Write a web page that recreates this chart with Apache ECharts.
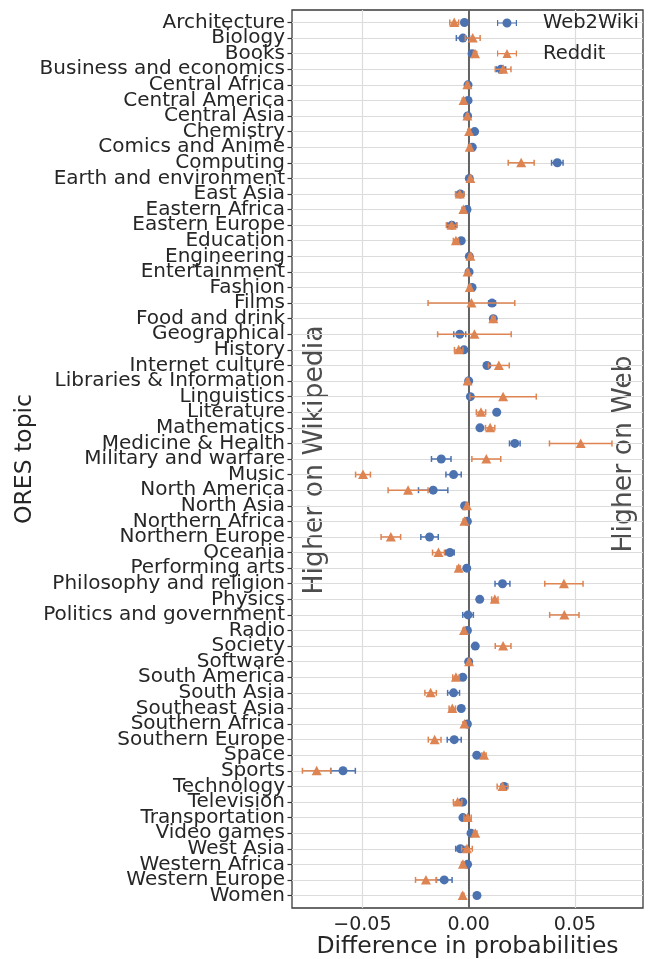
<!DOCTYPE html>
<html>
<head>
<meta charset="utf-8">
<script src="https://cdn.jsdelivr.net/npm/echarts@6/dist/echarts.min.js"></script>
<style>
  html, body { margin: 0; padding: 0; background: #fff; }
  #main { width: 652px; height: 959px; }
</style>
</head>
<body>
<div id="main"></div>
<script>
// ORES topics, top to bottom
const topics = [
  'Architecture', 'Biology', 'Books', 'Business and economics', 'Central Africa',
  'Central America', 'Central Asia', 'Chemistry', 'Comics and Anime', 'Computing',
  'Earth and environment', 'East Asia', 'Eastern Africa', 'Eastern Europe', 'Education',
  'Engineering', 'Entertainment', 'Fashion', 'Films', 'Food and drink',
  'Geographical', 'History', 'Internet culture', 'Libraries & Information', 'Linguistics',
  'Literature', 'Mathematics', 'Medicine & Health', 'Military and warfare', 'Music',
  'North America', 'North Asia', 'Northern Africa', 'Northern Europe', 'Oceania',
  'Performing arts', 'Philosophy and religion', 'Physics', 'Politics and government', 'Radio',
  'Society', 'Software', 'South America', 'South Asia', 'Southeast Asia',
  'Southern Africa', 'Southern Europe', 'Space', 'Sports', 'Technology',
  'Television', 'Transportation', 'Video games', 'West Asia', 'Western Africa',
  'Western Europe', 'Women'
];

const web2wiki = [
  -0.0020, -0.0027, 0.0016, 0.0152, -0.0003,
  -0.0003, -0.0005, 0.0028, 0.0017, 0.0417,
  0.0003, -0.0039, -0.0008, -0.0079, -0.0035,
  0.0003, 0.0002, 0.0016, 0.0110, 0.0116,
  -0.0042, -0.0022, 0.0086, 0.0000, 0.0008,
  0.0132, 0.0053, 0.0217, -0.0129, -0.0071,
  -0.0167, -0.0019, -0.0006, -0.0184, -0.0088,
  -0.0009, 0.0159, 0.0052, -0.0003, -0.0006,
  0.0031, 0.0000, -0.0028, -0.0071, -0.0035,
  -0.0006, -0.0068, 0.0038, -0.0591, 0.0167,
  -0.0028, -0.0027, 0.0011, -0.0039, -0.0005,
  -0.0115, 0.0039
];
const web2wikiErr = [
  0.0008, 0.0031, 0.0006, 0.0022, 0.0004,
  0.0005, 0.0004, 0.0005, 0.0005, 0.0027,
  0.0004, 0.0015, 0.0006, 0.0022, 0.0007,
  0.0004, 0.0004, 0.0005, 0.0016, 0.0006,
  0.0028, 0.0008, 0.0008, 0.0004, 0.0006,
  0.0007, 0.0007, 0.0025, 0.0046, 0.0036,
  0.0069, 0.0005, 0.0004, 0.0041, 0.0020,
  0.0005, 0.0035, 0.0006, 0.0025, 0.0004,
  0.0007, 0.0004, 0.0008, 0.0028, 0.0008,
  0.0004, 0.0033, 0.0007, 0.0058, 0.0012,
  0.0010, 0.0006, 0.0006, 0.0022, 0.0004,
  0.0037, 0.0006
];

const reddit = [
  -0.0068, 0.0019, 0.0030, 0.0162, -0.0006,
  -0.0024, -0.0006, 0.0002, 0.0005, 0.0247,
  0.0008, -0.0042, -0.0025, -0.0080, -0.0060,
  0.0008, -0.0005, 0.0005, 0.0013, 0.0116,
  0.0027, -0.0047, 0.0142, -0.0005, 0.0162,
  0.0058, 0.0101, 0.0527, 0.0083, -0.0497,
  -0.0285, -0.0008, -0.0020, -0.0366, -0.0142,
  -0.0047, 0.0448, 0.0123, 0.0450, -0.0022,
  0.0162, 0.0002, -0.0060, -0.0179, -0.0077,
  -0.0020, -0.0160, 0.0072, -0.0715, 0.0159,
  -0.0052, -0.0005, 0.0031, -0.0008, -0.0027,
  -0.0201, -0.0028
];
const redditErr = [
  0.0021, 0.0035, 0.0008, 0.0037, 0.0005,
  0.0006, 0.0005, 0.0006, 0.0006, 0.0061,
  0.0005, 0.0020, 0.0007, 0.0025, 0.0012,
  0.0006, 0.0005, 0.0006, 0.0204, 0.0008,
  0.0173, 0.0020, 0.0049, 0.0005, 0.0156,
  0.0022, 0.0022, 0.0147, 0.0068, 0.0035,
  0.0094, 0.0006, 0.0006, 0.0046, 0.0028,
  0.0008, 0.0090, 0.0015, 0.0069, 0.0006,
  0.0037, 0.0005, 0.0015, 0.0027, 0.0015,
  0.0007, 0.0030, 0.0010, 0.0067, 0.0025,
  0.0020, 0.0017, 0.0008, 0.0025, 0.0007,
  0.0049, 0.0006
];

const xTicks = [-0.05, 0, 0.05];
const yMin = -0.8, yMax = 56.8;
const yTicks = topics.map((t, i) => i);
// blank labels at both ends so the real first/last topic labels are never auto-hidden
const yLabelValues = [yMin].concat(yTicks, [yMax]);

const BLUE = '#4c72b0';
const ORANGE = '#dd8452';
const FONT = 'DejaVu Sans';
const TEXT = '#262626';

function toRows(vals, errs) {
  return vals.map((v, i) => [v, i, errs[i]]);
}

// error bar + marker for one topic
function errorBarItem(marker) {
  return function (params, api) {
    const v = api.value(0), i = api.value(1), e = api.value(2);
    const c = api.coord([v, i]);
    const lo = api.coord([v - e, i]);
    const hi = api.coord([v + e, i]);
    const color = api.visual('color');
    const line = { stroke: color, lineWidth: 1.5 };
    const cap = 3;
    const s = 5;
    const dot = marker === 'circle'
      ? { type: 'circle', shape: { cx: c[0], cy: c[1], r: 4.5 }, style: { fill: color } }
      : { type: 'polygon', shape: { points: [[c[0], c[1] - s], [c[0] + s, c[1] + s - 0.5], [c[0] - s, c[1] + s - 0.5]] }, style: { fill: color } };
    return {
      type: 'group',
      children: [
        { type: 'line', shape: { x1: lo[0], y1: c[1], x2: hi[0], y2: c[1] }, style: line },
        { type: 'line', shape: { x1: lo[0], y1: c[1] - cap, x2: lo[0], y2: c[1] + cap }, style: line },
        { type: 'line', shape: { x1: hi[0], y1: c[1] - cap, x2: hi[0], y2: c[1] + cap }, style: line },
        dot
      ]
    };
  };
}

// legend icons: marker with a small error bar
const iconCircle = 'path://M0,3.9L20,3.9L20,5.1L0,5.1Z M0,1.5L1.2,1.5L1.2,7.5L0,7.5Z M18.8,1.5L20,1.5L20,7.5L18.8,7.5Z M5.5,4.5A4.5,4.5 0 1,1 14.5,4.5A4.5,4.5 0 1,1 5.5,4.5Z';
const iconTri = 'path://M0,3.9L20,3.9L20,5.1L0,5.1Z M0,1.5L1.2,1.5L1.2,7.5L0,7.5Z M18.8,1.5L20,1.5L20,7.5L18.8,7.5Z M10,0L14.5,9L5.5,9Z';

const chart = echarts.init(document.getElementById('main'));

const option = {
  animation: false,
  backgroundColor: '#fff',
  textStyle: { fontFamily: FONT },
  grid: {
    left: 292, right: 9, top: 10, bottom: 51,
    outerBoundsMode: 'none',
    containLabel: false,
    show: true, borderColor: '#3a3a3a', borderWidth: 1.3, backgroundColor: 'transparent'
  },
  legend: {
    orient: 'vertical',
    left: 492, top: 7,
    itemWidth: 20, itemHeight: 9,
    itemGap: 8.6,
    textStyle: { fontSize: 19.5, color: TEXT, fontFamily: FONT, lineHeight: 22, padding: [0, 0, 0, 21] },
    data: [
      { name: 'Web2Wiki', icon: iconCircle },
      { name: 'Reddit', icon: iconTri }
    ]
  },
  xAxis: {
    type: 'value',
    min: -0.0831, max: 0.082,
    axisLine: { show: false, onZero: false },
    axisTick: { show: false, customValues: xTicks },
    axisLabel: {
      customValues: xTicks, fontSize: 19, color: TEXT, fontFamily: FONT, margin: 8,
      formatter: v => (v < 0 ? '\u2212' : '') + Math.abs(v).toFixed(2)
    },
    splitLine: { show: true, lineStyle: { color: '#dcdcdc', width: 1.2 } },
    name: 'Difference in probabilities',
    nameLocation: 'middle',
    nameGap: 27,
    nameMoveOverlap: false,
    nameTextStyle: { fontSize: 23.5, color: TEXT, fontFamily: FONT }
  },
  yAxis: {
    type: 'value',
    inverse: true,
    min: yMin, max: yMax,
    axisLine: { show: false, onZero: false },
    axisTick: { show: true, customValues: yTicks, length: 4.5, lineStyle: { color: '#333', width: 1.2 } },
    axisLabel: {
      customValues: yLabelValues, fontSize: 20, lineHeight: 14, color: TEXT, fontFamily: FONT, margin: 7,
      hideOverlap: false,
      formatter: v => (Number.isInteger(v) && topics[v]) ? topics[v] : ''
    },
    splitLine: { show: true, lineStyle: { color: '#dcdcdc', width: 1.2 } },
    name: 'ORES topic',
    nameLocation: 'middle',
    nameGap: 255,
    nameRotate: 90,
    nameMoveOverlap: false,
    nameTextStyle: { fontSize: 23.5, color: TEXT, fontFamily: FONT }
  },
  series: [
    {
      name: 'Web2Wiki',
      type: 'custom',
      renderItem: errorBarItem('circle'),
      itemStyle: { color: BLUE },
      encode: { x: 0, y: 1 },
      data: toRows(web2wiki, web2wikiErr),
      z: 3,
      markLine: {
        silent: true,
        symbol: 'none',
        z: 1,
        label: { show: false },
        lineStyle: { color: '#555', width: 1.8, type: 'solid' },
        data: [{ xAxis: 0 }]
      }
    },
    {
      name: 'Reddit',
      type: 'custom',
      renderItem: errorBarItem('triangle'),
      itemStyle: { color: ORANGE },
      encode: { x: 0, y: 1 },
      data: toRows(reddit, redditErr),
      z: 4
    }
  ],
  graphic: [
    {
      type: 'text', x: 315, y: 460, rotation: Math.PI / 2,
      style: { text: 'Higher on Wikipedia', fontSize: 26.7, fontFamily: FONT, fill: '#4d4d4d', align: 'center', verticalAlign: 'middle' }
    },
    {
      type: 'text', x: 624, y: 454, rotation: Math.PI / 2,
      style: { text: 'Higher on Web', fontSize: 26.7, fontFamily: FONT, fill: '#4d4d4d', align: 'center', verticalAlign: 'middle' }
    }
  ]
};

chart.setOption(option);
</script>
</body>
</html>
